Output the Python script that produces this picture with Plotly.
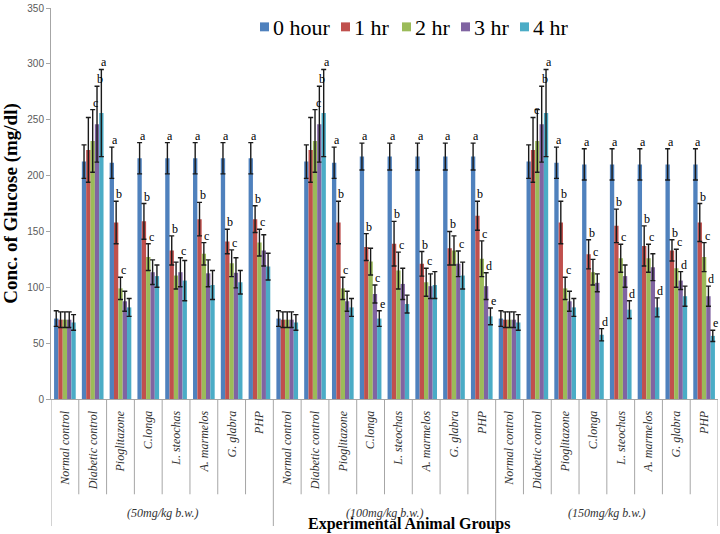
import plotly.graph_objects as go

groups = ["Normal control", "Diabetic control", "Pioglitazone", "C.longa",
          "L. steochas", "A. marmelos", "G. glabra", "PHP"]
doses = ["(50mg/kg b.w.)", "(100mg/kg b.w.)", "(150mg/kg b.w.)"]
series_names = ["0 hour", "1 hr", "2 hr", "3 hr", "4 hr"]
colors = ["#4F81BD", "#C0504D", "#9BBB59", "#8064A2", "#4BACC6"]

hour0 = [72, 212.5, 211.5, 215.5, 215.5, 215.5, 215.5, 215.5,
         72, 212.5, 211.5, 217, 217, 217, 217, 217,
         72, 212.5, 211.5, 210, 210, 210, 210, 210]
hour1 = [71, 223, 158, 159, 133, 161, 141, 161,
         71, 223, 158, 136, 139, 121, 135, 164,
         71, 223, 158, 129.5, 155, 137, 133, 158]
hour2 = [71, 231, 99, 127, 110.5, 130, 121.5, 140,
         71, 231, 99, 123, 115, 104.5, 133, 125.5,
         71, 231, 99, 113.5, 126, 126, 117, 127]
hour3 = [71, 246, 87.5, 113.5, 113.5, 112.5, 113, 133,
         71, 246, 87.5, 94, 103, 101, 121, 101,
         71, 246, 87.5, 104, 110, 118, 106, 92]
hour4 = [68.5, 256, 82, 110, 106, 102, 104.5, 118.5,
         68.5, 256, 82, 72, 85, 102, 110.5, 74,
         68.5, 256, 82, 57.5, 80, 82, 92, 56.5]

err0 = [7, 15, 14, 14, 14, 14, 14, 14,
        7, 15, 14, 12, 12, 12, 12, 12,
        7, 15, 14, 14, 14, 14, 14, 14]
err1 = [7, 29, 19, 16, 13, 15, 11, 12,
        7, 29, 19, 12, 20, 11, 15, 13,
        7, 29, 19, 13, 15, 18, 9.5, 17]
err2 = [7, 28, 10, 12, 12, 10, 12, 12,
        7, 28, 10, 12, 16.5, 12.5, 13, 16,
        7, 28, 10, 11.5, 12.5, 12.5, 17, 13]
err3 = [7, 34, 9, 11, 13, 12, 13.5, 14,
        7, 34, 9, 8, 14, 11, 11.5, 12,
        7, 34, 9, 8, 10, 12, 8, 9]
err4 = [7, 39, 8, 10, 18, 13, 10.5, 12,
        7, 39, 8, 7, 8, 12, 12, 7.5,
        7, 39, 8, 5.5, 8, 8.5, 9, 5]

# significance letters, per category: [0h, 1h, 2h, 3h, 4h]
letters = [
    ["", "", "", "", ""], ["", "", "c", "b", "a"], ["a", "b", "c", "", ""], ["a", "b", "c", "", ""],
    ["a", "b", "", "c", ""], ["a", "b", "c", "", ""], ["a", "b", "c", "", ""], ["a", "b", "c", "", ""],
    ["", "", "", "", ""], ["", "", "c", "b", "a"], ["a", "b", "c", "", ""], ["a", "b", "", "c", "e"],
    ["a", "b", "c", "", ""], ["a", "b", "c", "", ""], ["a", "b", "", "c", ""], ["a", "b", "c", "d", "e"],
    ["", "", "", "", ""], ["", "c", "", "b", "a"], ["a", "b", "c", "", ""], ["a", "b", "c", "", "d"],
    ["a", "b", "c", "", "d"], ["a", "b", "c", "", "d"], ["a", "b", "c", "d", ""], ["a", "b", "c", "d", "e"],
]
y_ticks = [0, 50, 100, 150, 200, 250, 300, 350]

values = [hour0, hour1, hour2, hour3, hour4]
errors = [err0, err1, err2, err3, err4]
n = len(hour0)
xs = list(range(n))
ticktext = [f"<i>{groups[i % 8]}</i>" for i in range(n)]

SERIF = "Liberation Serif"
bargap = 0.22

# plot-area geometry in pixels (for legend/label placement)
L, R, T, B = 51, 718, 5, 399
W, H = R - L, B - T


def px_x(p):
    return (p - L) / W


def px_y(p):
    return (B - p) / H


fig = go.Figure()
for s in range(5):
    fig.add_trace(go.Bar(
        x=xs, y=values[s], name=series_names[s], showlegend=False,
        marker=dict(color=colors[s], line=dict(width=0)),
        error_y=dict(type="data", array=errors[s], visible=True,
                     color="#1a1a1a", thickness=1.4, width=2.5),
    ))

barw = (1 - bargap) / 5
annotations = []
for i in range(n):
    for s in range(5):
        t = letters[i][s]
        if t:
            annotations.append(dict(
                x=i + (s - 2) * barw, y=values[s][i] + errors[s][i],
                xref="x", yref="y", text=t, showarrow=False,
                xanchor="center", yanchor="bottom", xshift=3, yshift=-2,
                font=dict(family=SERIF, size=12, color="#000000")))

# dose labels
for g in range(3):
    annotations.append(dict(
        x=g * 8 + 3.5, y=px_y(514), xref="x", yref="paper", text=f"<i>{doses[g]}</i>",
        showarrow=False, xanchor="center", yanchor="middle",
        font=dict(family=SERIF, size=12, color="#333333")))

annotations.append(dict(
    x=px_x(409), y=px_y(525), xref="paper", yref="paper",
    text="<b>Experimental Animal Groups</b>", showarrow=False,
    xanchor="center", yanchor="middle",
    font=dict(family=SERIF, size=16, color="#000000")))

shapes = []
for k in range(n + 1):
    bottom = px_y(527) if k % 8 == 0 else px_y(495)
    shapes.append(dict(type="line", xref="x", yref="paper",
                       x0=k - 0.5, x1=k - 0.5, y0=0, y1=bottom,
                       line=dict(color="#A6A6A6", width=1)))

# legend (drawn manually to match the compact original layout)
leg_sq = [260, 341, 402, 461, 520]
leg_y = 24
for s in range(5):
    shapes.append(dict(type="rect", xref="paper", yref="paper",
                       x0=px_x(leg_sq[s]), x1=px_x(leg_sq[s] + 9),
                       y0=px_y(leg_y + 4.5), y1=px_y(leg_y - 4.5),
                       fillcolor=colors[s], line=dict(width=0)))
    annotations.append(dict(
        x=px_x(leg_sq[s] + 11), y=px_y(leg_y + 1), xref="paper", yref="paper",
        text=series_names[s], showarrow=False, xanchor="left", yanchor="middle",
        font=dict(family=SERIF, size=22, color="#000000")))

fig.update_layout(
    width=720, height=534,
    margin=dict(l=L, r=720 - R, t=T, b=534 - B),
    paper_bgcolor="white", plot_bgcolor="white",
    barmode="group", bargap=bargap, bargroupgap=0,
    showlegend=False,
    xaxis=dict(range=[-0.5, n - 0.5], tickmode="array", tickvals=xs, ticktext=ticktext,
               tickangle=-90, showgrid=False, zeroline=False, showline=True,
               linecolor="#A6A6A6", linewidth=1, ticks="", ticklabelstandoff=6,
               tickfont=dict(family=SERIF, size=12, color="#333333")),
    yaxis=dict(range=[0, 350], tickmode="array", tickvals=y_ticks,
               ticklabeloverflow="allow",
               showgrid=False, zeroline=False,
               showline=True, linecolor="#A6A6A6", linewidth=1,
               ticks="outside", ticklen=4, tickcolor="#A6A6A6",
               tickfont=dict(family="Liberation Sans", size=10, color="#595959"),
               title=dict(text="<b>Conc. of Glucose (mg/dl)</b>", standoff=6,
                          font=dict(family=SERIF, size=19, color="#000000"))),
    annotations=annotations, shapes=shapes,
)

fig.write_html("out.html", config={"displayModeBar": False},
               post_script="document.body.style.margin='0';")
